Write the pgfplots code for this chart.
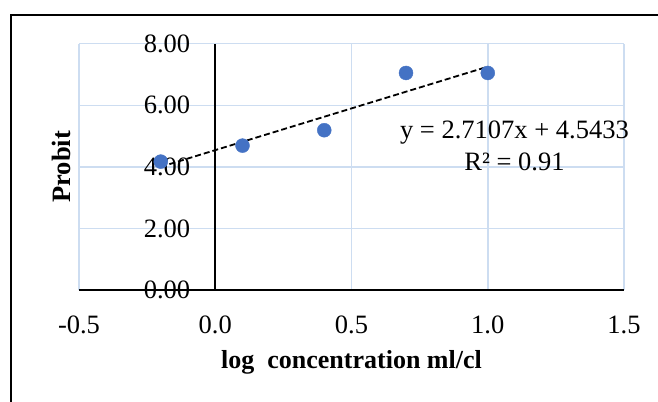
\documentclass[border=0pt]{standalone}
\usepackage{pgfplots}
\pgfplotsset{compat=1.18}
\usepackage{fontspec}
\setmainfont{Liberation Serif}
\definecolor{gridblue}{RGB}{205,221,241}
\definecolor{ptblue}{RGB}{68,114,196}
\begin{document}
\fontsize{26.5bp}{31bp}\selectfont
\begin{tikzpicture}[x=1bp,y=1bp]
\useasboundingbox (0,0) rectangle (658,401);
\draw[line width=1.6bp] (11,-20) -- (11,386) -- (680,386);
\begin{axis}[
  scale only axis,
  width=545bp, height=246.3bp,
  at={(79bp,111bp)}, anchor=south west,
  xmin=-0.5, xmax=1.5, ymin=0, ymax=8,
  xtick={-0.5,0,0.5,1,1.5},
  ytick={0,2,4,6,8},
  extra y ticks={0},
  extra y tick style={grid=none},
  axis x line*=bottom,
  axis y line*=middle,
  axis line style={line width=1.8bp, black},
  major tick length=0pt,
  grid=major,
  major grid style={gridblue, line width=1.5bp},
  /pgf/number format/assume math mode=true,
  xticklabel={\pgfmathprintnumber[fixed,fixed zerofill,precision=1]{\tick}},
  yticklabel={\pgfmathprintnumber[fixed,fixed zerofill,precision=2]{\tick}},
  extra y tick label={\pgfmathprintnumber[fixed,fixed zerofill,precision=2]{\tick}},
  xticklabel style={yshift=-17bp, font=\fontsize{26.5bp}{31bp}\selectfont},
  yticklabel style={xshift=-16bp, font=\fontsize{26.5bp}{31bp}\selectfont, anchor=east},
  xlabel={\textbf{log\ \ concentration ml/cl}},
  ylabel={\textbf{Probit}},
  xlabel style={at={(axis description cs:0.5,-0.292)}, anchor=center, font=\fontsize{26bp}{31bp}\selectfont},
  ylabel style={at={(axis description cs:-0.033,0.5)}, anchor=center, rotate=0, font=\fontsize{26.5bp}{31bp}\selectfont},
  clip=false,
]
\addplot[only marks, mark=*, mark size=7bp, mark options={fill=ptblue, draw=ptblue}]
  coordinates {(-0.2,4.17) (0.1,4.69) (0.4,5.19) (0.7,7.05) (1.0,7.05)};
\addplot[black, line width=1.8bp, dash pattern=on 6bp off 3bp]
  coordinates {(-0.2,4.0012) (1.0,7.2540)};
\node[align=center, font=\fontsize{26.5bp}{32bp}\selectfont] at (axis cs:1.098,4.67)
  {y = 2.7107x + 4.5433\\R² = 0.91};
\end{axis}
\end{tikzpicture}
\end{document}
